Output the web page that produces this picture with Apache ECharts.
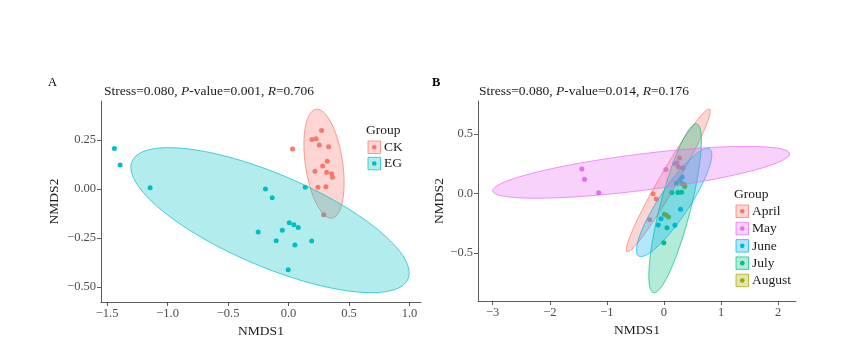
<!DOCTYPE html>
<html><head><meta charset="utf-8">
<script src="https://cdn.jsdelivr.net/npm/echarts@6/dist/echarts.min.js"></script>
<style>html,body{margin:0;padding:0;background:#fff}#c{width:853px;height:361px}</style>
</head><body><div id="c"></div>
<script>
// ---- data ----
const nmds1 = [0.273,0.193,0.227,0.254,0.331,0.033,0.320,0.282,0.218,0.315,0.356,0.362,0.243,0.309,0.290,
               -1.439,-1.392,-1.144,-0.191,-0.135,0.138,0.006,0.044,0.080,-0.251,-0.052,-0.102,0.052,0.191,-0.003];
const nmds2 = [0.299,0.253,0.257,0.224,0.216,0.204,0.141,0.117,0.090,0.085,0.078,0.060,0.009,0.012,-0.131,
               0.207,0.122,0.007,0.000,-0.044,0.009,-0.172,-0.182,-0.197,-0.219,-0.211,-0.264,-0.286,-0.265,-0.412];
const treatment = ['CK','CK','CK','CK','CK','CK','CK','CK','CK','CK','CK','CK','CK','CK','CK',
                   'EG','EG','EG','EG','EG','EG','EG','EG','EG','EG','EG','EG','EG','EG','EG'];
const month = ['April','May','May','April','April','May','June','June','July','August','August','August','July','July','June',
               'May','May','May','April','April','July','August','August','August','April','June','June','July','June','July'];

const groupsA = ['CK','EG'];
const groupsB = ['April','May','June','July','August'];

// ellipse parameters (data units): centre, half-extent in x / y, correlation
const ellA_group = ['CK','EG'];
const ellA_cx = [0.293,-0.153];
const ellA_cy = [0.129,-0.159];
const ellA_sx = [0.166,1.150];
const ellA_sy = [0.278,0.370];
const ellA_rho = [-0.35,-0.728];

const ellB_group = ['April','July','June','May'];
const ellB_cx = [0.075,0.195,0.178,-0.400];
const ellB_cy = [0.111,-0.123,-0.074,0.180];
const ellB_sx = [0.735,0.460,0.660,2.600];
const ellB_sy = [0.600,0.710,0.455,0.218];
const ellB_rho = [0.970,0.800,0.880,0.707];

const statsA = ['0.080','0.001','0.706'];
const statsB = ['0.080','0.014','0.176'];

const xTicksA = [-1.5,-1,-0.5,0,0.5,1];
const xLabelsA = ['\u22121.5','\u22121.0','\u22120.5','0.0','0.5','1.0'];
const yTicksA = [-0.5,-0.25,0,0.25];
const yLabelsA = ['\u22120.50','\u22120.25','0.00','0.25'];
const xTicksB = [-3,-2,-1,0,1,2];
const xLabelsB = ['\u22123','\u22122','\u22121','0','1','2'];
const yTicksB = [-0.5,0,0.5];
const yLabelsB = ['\u22120.5','0.0','0.5'];

// ---- styling ----
const colA = {CK:'#F8766D', EG:'#00BFC4'};
const colB = {April:'#F8766D', May:'#E76BF3', June:'#00B0F6', July:'#00BF7D', August:'#A3A500'};
const FONT = 'Liberation Serif';

function hexA(h,a){const r=parseInt(h.slice(1,3),16),g=parseInt(h.slice(3,5),16),b=parseInt(h.slice(5,7),16);return `rgba(${r},${g},${b},${a})`;}
function fmt(ticks,labels){return v=>{let k=0,d=1e9;ticks.forEach((t,i)=>{if(Math.abs(t-v)<d){d=Math.abs(t-v);k=i;}});return labels[k];};}

function axisX(grid,min,max,ticks,labels){
  return {gridIndex:grid,type:'value',min:min,max:max,
    axisLine:{show:true,onZero:false,lineStyle:{color:'#333',width:0.8}},
    axisTick:{show:true,length:4,customValues:ticks,lineStyle:{color:'#333',width:0.8}},
    axisLabel:{customValues:ticks,formatter:fmt(ticks,labels),fontFamily:FONT,fontSize:12.5,color:'#4d4d4d',margin:5},
    splitLine:{show:false},
    name:'NMDS1',nameLocation:'middle',nameGap:18,
    nameTextStyle:{fontFamily:FONT,fontSize:13.5,color:'#1a1a1a',verticalAlign:'top'}};
}
function axisY(grid,min,max,ticks,labels,gap){
  return {gridIndex:grid,type:'value',min:min,max:max,
    axisLine:{show:true,onZero:false,lineStyle:{color:'#333',width:0.8}},
    axisTick:{show:true,length:4,customValues:ticks,lineStyle:{color:'#333',width:0.8}},
    axisLabel:{customValues:ticks,formatter:fmt(ticks,labels),fontFamily:FONT,fontSize:12.5,color:'#4d4d4d',margin:5},
    splitLine:{show:false},
    name:'NMDS2',nameLocation:'middle',nameGap:gap,nameRotate:90,
    nameTextStyle:{fontFamily:FONT,fontSize:13.5,color:'#1a1a1a'}};
}

function ellipseSeries(xi,groups,cx,cy,sx,sy,rho,cols){
  return {type:'custom',xAxisIndex:xi,yAxisIndex:xi,z:5,silent:true,
    encode:{x:0,y:1},
    data:groups.map((g,i)=>[cx[i],cy[i],sx[i],sy[i],rho[i],i]),
    renderItem:function(params,api){
      const c0=api.value(0),c1=api.value(1),a=api.value(2),b=api.value(3),r=api.value(4);
      const g=groups[api.value(5)];
      const pts=[];
      for(let k=0;k<=120;k++){
        const t=2*Math.PI*k/120;
        const x=c0+a*Math.cos(t);
        const y=c1+b*(r*Math.cos(t)-Math.sqrt(1-r*r)*Math.sin(t));
        pts.push(api.coord([x,y]));
      }
      return {type:'polygon',shape:{points:pts},
        style:{fill:hexA(cols[g],0.3),stroke:cols[g],lineWidth:0.7}};
    }};
}

const series = [];
groupsA.forEach(g=>{
  series.push({type:'scatter',xAxisIndex:0,yAxisIndex:0,z:2,symbolSize:5,
    itemStyle:{color:colA[g],opacity:1},
    data:nmds1.map((x,i)=>[x,nmds2[i],treatment[i]]).filter(d=>d[2]===g).map(d=>[d[0],d[1]])});
});
series.push(ellipseSeries(0,ellA_group,ellA_cx,ellA_cy,ellA_sx,ellA_sy,ellA_rho,colA));
groupsB.forEach(g=>{
  series.push({type:'scatter',xAxisIndex:1,yAxisIndex:1,z:2,symbolSize:5,
    itemStyle:{color:colB[g],opacity:1},
    data:nmds1.map((x,i)=>[x,nmds2[i],month[i]]).filter(d=>d[2]===g).map(d=>[d[0],d[1]])});
});
series.push(ellipseSeries(1,ellB_group,ellB_cx,ellB_cy,ellB_sx,ellB_sy,ellB_rho,colB));

function legend(x,y0,title,groups,cols,step){
  const ch=[{type:'text',left:x-2,top:y0-8,style:{text:title,font:`13.5px "${FONT}"`,fill:'#1a1a1a'}}];
  groups.forEach((g,i)=>{
    const cy=y0+16+i*step;
    ch.push({type:'rect',shape:{x:x,y:cy-6,width:12.5,height:12.5},
      style:{fill:hexA(cols[g],0.3),stroke:cols[g],lineWidth:0.7}});
    ch.push({type:'circle',shape:{cx:x+6.25,cy:cy+0.25,r:2.3},style:{fill:cols[g]}});
    ch.push({type:'text',x:x+16,y:cy+0.5,style:{text:g,font:`13.5px "${FONT}"`,fill:'#1a1a1a',verticalAlign:'middle'}});
  });
  return ch;
}

function statText(s){return `{n|Stress=${s[0]}, }{i|P}{n|-value=${s[1]}, }{i|R}{n|=${s[2]}}`;}
const rich={n:{fontFamily:FONT,fontSize:13.5,fontWeight:'normal',color:'#1a1a1a'},
            i:{fontFamily:FONT,fontSize:13.5,fontWeight:'normal',fontStyle:'italic',color:'#1a1a1a'}};

const option={
  animation:false,
  backgroundColor:'#fff',
  title:[
    {text:'A',left:48,top:76,padding:0,textStyle:{fontFamily:FONT,fontSize:12.5,fontWeight:'normal',color:'#000'}},
    {text:'B',left:432,top:76,padding:0,textStyle:{fontFamily:FONT,fontSize:12.5,fontWeight:'bold',color:'#000'}},
    {text:statText(statsA),left:104,top:84,padding:0,textStyle:{fontWeight:'normal',rich:rich}},
    {text:statText(statsB),left:479,top:84,padding:0,textStyle:{fontWeight:'normal',rich:rich}}
  ],
  grid:[
    {left:101,top:101,width:320,height:201,containLabel:false},
    {left:478,top:101,width:318,height:200,containLabel:false}
  ],
  xAxis:[axisX(0,-1.55,1.0946,xTicksA,xLabelsA),axisX(1,-3.257,2.312,xTicksB,xLabelsB)],
  yAxis:[axisY(0,-0.5765,0.4490,yTicksA,yLabelsA,40),axisY(1,-0.902,0.779,yTicksB,yLabelsB,32)],
  series:series,
  graphic:[...legend(368,131,'Group',['CK','EG'],colA,16.3),...legend(736,195,'Group',groupsB,colB,17.3)]
};
const chart=echarts.init(document.getElementById('c'),null,{renderer:'canvas'});
chart.setOption(option);
</script></body></html>
